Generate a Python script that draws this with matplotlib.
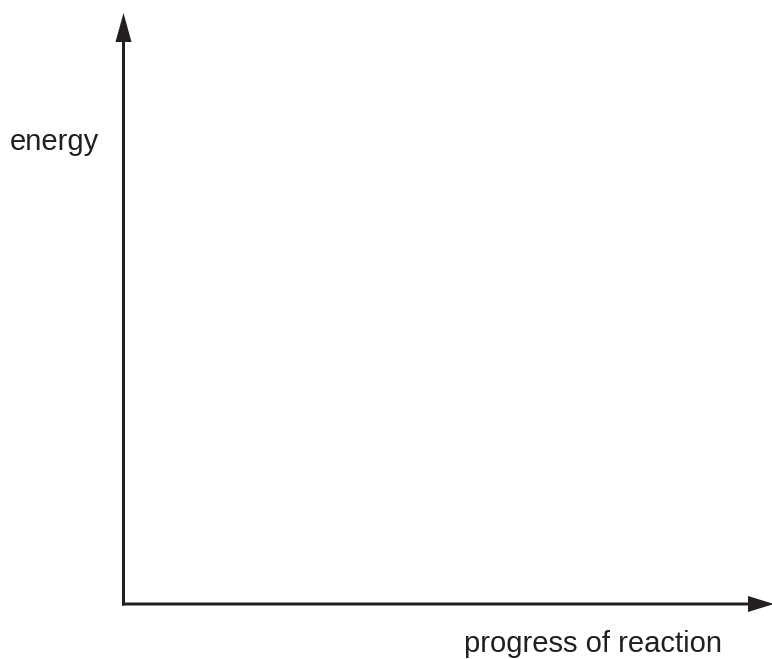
import matplotlib.pyplot as plt

# --- Labels ---
y_label = "energy"
x_label = "progress of reaction"

ink = "#231f20"
W, H = 772, 659

fig = plt.figure(figsize=(W / 100, H / 100), dpi=100)
ax = fig.add_axes([0, 0, 1, 1])
ax.set_xlim(0, W)
ax.set_ylim(H, 0)
ax.axis("off")

# axes origin (pixel coords)
ox, oy = 123.5, 604

# vertical axis with arrow head
ax.arrow(ox, oy + 1.5, 0, 13 - oy - 1.5, width=3, head_width=16, head_length=29,
         length_includes_head=True, color=ink, lw=0)
# horizontal axis with arrow head
ax.arrow(ox - 1.5, oy, 774 - ox + 1.5, 0, width=3, head_width=16, head_length=26,
         length_includes_head=True, color=ink, lw=0, clip_on=False)

ax.text(54.5, 150, y_label, ha="center", va="baseline", fontsize=21,
        family="Liberation Sans", color=ink)
ax.text(592.5, 652, x_label, ha="center", va="baseline", fontsize=21,
        family="Liberation Sans", color=ink)

fig.savefig("out.png", dpi=100, facecolor="white")
